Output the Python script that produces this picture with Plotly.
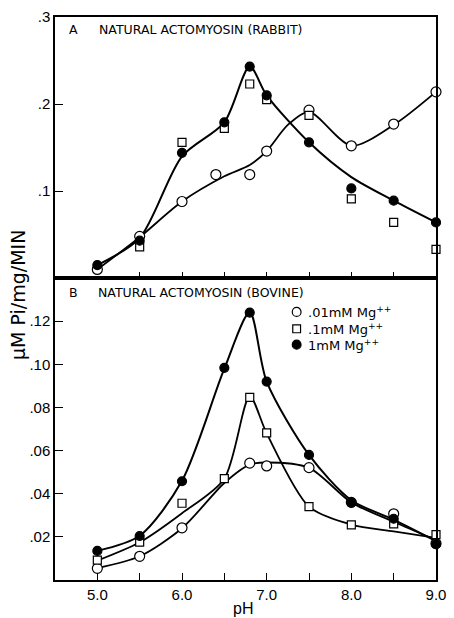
import plotly.graph_objects as go

FONT = "Liberation Sans"
LABEL_FONT = "DejaVu Sans"

# ---------------- data ----------------
ph = [5.0, 5.5, 6.0, 6.5, 6.8, 7.0, 7.5, 8.0, 8.5, 9.0]
ph_ticks = [5.0, 5.5, 6.0, 6.5, 7.0, 7.5, 8.0, 8.5, 9.0]
ph_ticktext = ["5.0", "", "6.0", "", "7.0", "", "8.0", "", "9.0"]

# A: natural actomyosin (rabbit), uM Pi/mg/min
rabbit_low_ph = [5.0, 5.5, 6.0, 6.4, 6.8, 7.0, 7.5, 8.0, 8.5, 9.0]
rabbit_low = [0.010, 0.048, 0.088, 0.119, 0.119, 0.146, 0.193, 0.152, 0.177, 0.214]
rabbit_mid_ph = [5.5, 6.0, 6.5, 6.8, 7.0, 7.5, 8.0, 8.5, 9.0]
rabbit_mid = [0.036, 0.156, 0.172, 0.223, 0.205, 0.187, 0.091, 0.064, 0.033]
rabbit_high = [0.015, 0.043, 0.144, 0.179, 0.243, 0.210, 0.156, 0.103, 0.089, 0.064]

# A: hand-fitted curves
rabbit_low_fit_ph = [5.0, 5.5, 6.0, 6.5, 6.8, 7.0, 7.25, 7.5, 8.0, 8.5, 9.0]
rabbit_low_fit = [0.010, 0.047, 0.088, 0.117, 0.130, 0.146, 0.176, 0.191, 0.152, 0.176, 0.214]
rabbit_high_fit_ph = [5.0, 5.5, 6.0, 6.5, 6.8, 7.0, 7.5, 8.0, 8.5, 9.0]
rabbit_high_fit = [0.015, 0.046, 0.140, 0.179, 0.243, 0.210, 0.156, 0.116, 0.089, 0.064]

# B: natural actomyosin (bovine)
bovine_low_ph = [5.0, 5.5, 6.0, 6.8, 7.0, 7.5, 8.0, 8.5, 9.0]
bovine_low = [0.0054, 0.0110, 0.0242, 0.0542, 0.0529, 0.0521, 0.0360, 0.0307, 0.0169]
bovine_mid = [0.0092, 0.0176, 0.0356, 0.0470, 0.0847, 0.0682, 0.0340, 0.0256, 0.0260, 0.0210]
bovine_high = [0.0135, 0.0204, 0.0458, 0.0984, 0.1240, 0.0920, 0.0580, 0.0359, 0.0284, 0.0166]

# B: hand-fitted curves
bovine_low_fit_ph = [5.0, 5.5, 6.0, 6.5, 6.8, 7.0, 7.5, 8.0, 8.5, 9.0]
bovine_low_fit = [0.0055, 0.0110, 0.0240, 0.0450, 0.0535, 0.0545, 0.0520, 0.0360, 0.0270, 0.0185]
bovine_mid_fit_ph = [5.0, 5.5, 6.0, 6.5, 6.8, 7.0, 7.5, 8.0, 8.5, 9.0]
bovine_mid_fit = [0.0090, 0.0175, 0.0310, 0.0470, 0.0850, 0.0680, 0.0340, 0.0257, 0.0225, 0.0195]
bovine_high_fit_ph = [5.0, 5.5, 6.0, 6.5, 6.8, 7.0, 7.5, 8.0, 8.5, 9.0]
bovine_high_fit = [0.0135, 0.0205, 0.0460, 0.0980, 0.1240, 0.0920, 0.0580, 0.0370, 0.0280, 0.0180]

rabbit_yticks = [0.1, 0.2, 0.3]
rabbit_yticktext = [".1", ".2", ".3"]
bovine_yticks = [0.02, 0.04, 0.06, 0.08, 0.10, 0.12]
bovine_yticktext = [".02", ".04", ".06", ".08", ".10", ".12"]

legend_labels = [".01mM Mg<sup>++</sup>", ".1mM Mg<sup>++</sup>", "1mM Mg<sup>++</sup>"]

# ---------------- geometry (pixels) ----------------
W, H = 454, 618
ML, MR, MT, MB = 55, 8, 13, 38
PW, PH = W - ML - MR, H - MT - MB
split = 0.5362  # boundary between bottom (B) and top (A) panels


def px(x):
    return (x - ML) / PW


def py(y):
    return (H - MB - y) / PH


fig = go.Figure()


def curve(x, y, xa, ya, width=2.0):
    fig.add_trace(go.Scatter(x=x, y=y, mode="lines", xaxis=xa, yaxis=ya,
                             line=dict(color="black", width=width, shape="spline", smoothing=0.8),
                             hoverinfo="skip", showlegend=False))


def points(x, y, xa, ya, symbol, fill, size):
    fig.add_trace(go.Scatter(x=x, y=y, mode="markers", xaxis=xa, yaxis=ya, cliponaxis=False,
                             marker=dict(symbol=symbol, size=size, color=fill,
                                         line=dict(color="black", width=1.2)),
                             showlegend=False))


# panel A
curve(rabbit_low_fit_ph, rabbit_low_fit, "x2", "y2", 1.8)
curve(rabbit_high_fit_ph, rabbit_high_fit, "x2", "y2", 2.0)
points(rabbit_low_ph, rabbit_low, "x2", "y2", "circle", "white", 10)
points(rabbit_mid_ph, rabbit_mid, "x2", "y2", "square", "white", 8)
points(ph, rabbit_high, "x2", "y2", "circle", "black", 9)

# panel B
curve(bovine_low_fit_ph, bovine_low_fit, "x", "y", 1.8)
curve(bovine_mid_fit_ph, bovine_mid_fit, "x", "y", 1.8)
curve(bovine_high_fit_ph, bovine_high_fit, "x", "y", 2.0)
points(bovine_low_ph, bovine_low, "x", "y", "circle", "white", 10)
points(ph, bovine_mid, "x", "y", "square", "white", 8)
points(ph, bovine_high, "x", "y", "circle", "black", 9)

axis_common = dict(showline=True, linecolor="black", linewidth=1.5, mirror=True,
                   showgrid=False, zeroline=False, ticks="inside", tickcolor="black",
                   tickwidth=1.3, ticklabeloverflow="allow",
                   tickfont=dict(family=FONT, size=15, color="black"))

fig.update_layout(
    width=W, height=H,
    margin=dict(l=ML, r=MR, t=MT, b=MB),
    paper_bgcolor="white", plot_bgcolor="white",
    showlegend=False,
    font=dict(family=FONT, color="black"),
    xaxis=dict(domain=[0, 1], anchor="y", range=[4.5, 9.0], tickvals=ph_ticks,
               ticktext=ph_ticktext, ticklen=7, **axis_common),
    xaxis2=dict(domain=[0, 1], anchor="y2", matches="x", range=[4.5, 9.0],
                tickvals=ph_ticks[1:-1], showticklabels=False, ticklen=6, **axis_common),
    yaxis=dict(domain=[0, split], anchor="x", range=[0, 0.14], tickvals=bovine_yticks,
               ticktext=bovine_yticktext, ticklen=8, **axis_common),
    yaxis2=dict(domain=[split, 1], anchor="x2", range=[0, 0.3], tickvals=rabbit_yticks,
                ticktext=rabbit_yticktext, ticklen=8, **axis_common),
)

ann = []


def text(x, y, s, size, xanchor="left", angle=0, family=LABEL_FONT):
    ann.append(dict(x=x, y=y, xref="paper", yref="paper", text=s, showarrow=False,
                    xanchor=xanchor, yanchor="middle", textangle=angle,
                    font=dict(family=family, size=size, color="black")))


text(px(67), py(26), "A", 12.5)
text(px(98), py(26), "NATURAL ACTOMYOSIN (RABBIT)", 12.5)
text(px(67), py(290), "B", 12.5)
text(px(97), py(290), "NATURAL ACTOMYOSIN (BOVINE)", 12.5)
text(px(17), py(293), "μM Pi/mg/MIN", 19, xanchor="center", angle=-90)
text(px(248), py(609), "pH", 16, xanchor="center", family=FONT)

# legend keys
key_x = 303
key_y = [310, 327, 343]
shapes = []
r = 4.5
shapes.append(dict(type="circle", xref="paper", yref="paper",
                   x0=px(key_x - r), x1=px(key_x + r), y0=py(key_y[0] + r), y1=py(key_y[0] - r),
                   line=dict(color="black", width=1.2), fillcolor="white"))
s = 4
shapes.append(dict(type="rect", xref="paper", yref="paper",
                   x0=px(key_x - s), x1=px(key_x + s), y0=py(key_y[1] + s), y1=py(key_y[1] - s),
                   line=dict(color="black", width=1.2), fillcolor="white"))
shapes.append(dict(type="circle", xref="paper", yref="paper",
                   x0=px(key_x - r), x1=px(key_x + r), y0=py(key_y[2] + r), y1=py(key_y[2] - r),
                   line=dict(color="black", width=1.2), fillcolor="black"))
for lbl, ky in zip(legend_labels, key_y):
    text(px(313), py(ky), lbl, 13)

fig.update_layout(annotations=ann, shapes=shapes)

fig.write_html("out.html")
